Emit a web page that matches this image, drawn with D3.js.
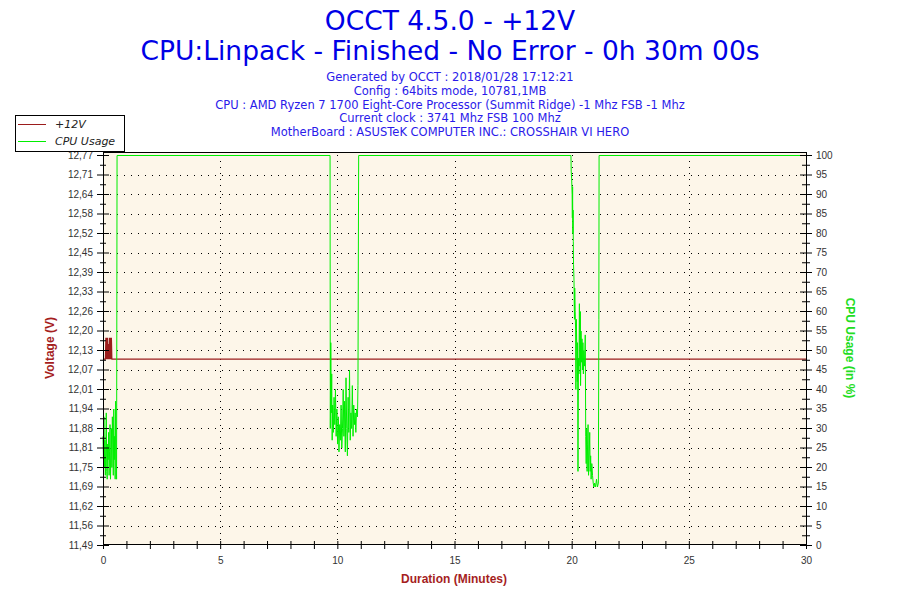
<!DOCTYPE html>
<html><head><meta charset="utf-8">
<script src="https://cdn.jsdelivr.net/npm/d3@7/dist/d3.min.js"></script>
<style>body{margin:0;background:#fff}svg{display:block}</style>
</head><body>
<svg id="chart" width="900" height="600"></svg>
<script>
// ---------- data ----------
const titleLines = ["OCCT 4.5.0 - +12V", "CPU:Linpack - Finished - No Error - 0h 30m 00s"];
const infoLines = [
  "Generated by OCCT : 2018/01/28 17:12:21",
  "Config : 64bits mode, 10781,1MB",
  "CPU : AMD Ryzen 7 1700 Eight-Core Processor (Summit Ridge) -1 Mhz FSB -1 Mhz",
  "Current clock : 3741 Mhz FSB 100 Mhz",
  "MotherBoard : ASUSTeK COMPUTER INC.: CROSSHAIR VI HERO"
];
const seriesNames = ["+12V", "CPU Usage"];
const voltDomain = [11.49, 12.77];
const voltTickLabels = ["11,49","11,56","11,62","11,69","11,75","11,81","11,88","11,94","12,01","12,07",
  "12,13","12,20","12,26","12,33","12,39","12,45","12,52","12,58","12,64","12,71","12,77"];
const cpuTickValues = [0,5,10,15,20,25,30,35,40,45,50,55,60,65,70,75,80,85,90,95,100];
const timeTickLabels = [0,5,10,15,20,25,30];

// +12V readings (minutes, volts)
const voltTime  = [0, 0.10, 0.12, 0.14, 0.16, 0.18, 0.20, 0.22, 0.24, 0.26, 0.28, 0.30, 0.32, 0.34, 0.36, 0.38, 30];
const voltValue = [12.10, 12.10, 12.17, 12.10, 12.17, 12.10, 12.17, 12.10, 12.15, 12.10, 12.17, 12.10, 12.17, 12.10, 12.17, 12.10, 12.10];

// CPU usage readings (minutes, %)
const cpuTime = [
  0.00,0.02,0.04,0.06,0.08,0.10,0.12,0.14,0.16,0.18,0.20,0.22,0.24,0.26,0.28,0.30,0.32,0.34,0.36,0.38,
  0.40,0.42,0.44,0.46,0.48,0.50,0.52,0.54,0.56,0.58,0.60,
  9.69,9.70,9.72,9.74,9.76,9.78,9.80,9.83,9.86,9.89,9.92,9.95,9.98,10.01,10.04,10.07,10.10,10.13,10.16,10.19,
  10.22,10.25,10.28,10.31,10.34,10.37,10.40,10.43,10.46,10.49,10.52,10.55,10.58,10.61,10.64,10.67,10.70,10.73,
  10.76,10.79,10.82,10.86,10.88,10.91,
  19.97,19.98,20.00,20.02,20.03,20.04,20.05,20.06,20.07,20.08,20.10,20.11,20.12,20.13,20.15,20.17,20.18,20.20,
  20.22,20.24,20.25,20.27,20.29,20.31,20.33,20.35,20.37,20.38,20.40,20.42,20.44,20.46,20.48,20.50,20.52,20.55,
  20.58,20.60,20.62,20.64,20.66,20.68,20.70,20.72,20.75,20.77,20.79,20.81,20.83,20.86,20.89,20.92,20.95,20.98,
  21.02,21.06,21.10,21.14,21.16,21.17,
  30
];
const cpuValue = [
  28,22,33,20,27,18,25,34,19,17,26,22,29,18,24,31,17,23,30,20,
  33,26,18,35,22,28,17,37,24,17,100,
  100,30,52,34,44,27,36,29,38,31,40,28,35,26,33,24,31,27,36,25,
  30,40,28,37,24,43,30,23,38,29,45,27,34,30,41,28,36,31,
  34,29,35,33,41,100,
  100,96,94,90,84,92,80,86,78,72,68,62,58,66,60,55,40,58,
  50,42,52,19,48,44,62,46,60,41,55,47,53,45,52,44,50,46,
  54,28,21,30,19,26,31,18,24,29,19,23,17,21,18,16,15,16,
  15,17,15,16,58,100,
  100
];

// ---------- chart ----------
const svg = d3.select("#chart");
const P = {left:103, right:806, top:155, bottom:545};
const x = d3.scaleLinear().domain([0,30]).range([P.left, P.right]);
const yCpu = d3.scaleLinear().domain([0,100]).range([P.bottom, P.top]);
const yVolt = d3.scaleLinear().domain(voltDomain).range([P.bottom, P.top]);

const titleFont = "'DejaVu Sans', Verdana, sans-serif";
const axFont = "'Liberation Sans', Arial, sans-serif";

svg.append("rect").attr("width",900).attr("height",600).attr("fill","#fff");

// titles
svg.selectAll("text.title").data(titleLines).enter().append("text")
  .attr("class","title").attr("x",450).attr("y",(d,i)=>30+i*30)
  .attr("text-anchor","middle").attr("font-family",titleFont).attr("font-size",26.5)
  .attr("fill","#0000e6").text(d=>d);
svg.selectAll("text.info").data(infoLines).enter().append("text")
  .attr("class","info").attr("x",450).attr("y",(d,i)=>81+i*13.8)
  .attr("text-anchor","middle").attr("font-family",titleFont).attr("font-size",11.5)
  .attr("fill","#2a1aea").text(d=>d);

// plot background
svg.append("rect").attr("x",P.left).attr("y",P.top-2).attr("width",P.right-P.left).attr("height",P.bottom-P.top+2)
  .attr("fill","#fdf6e9");

// grid
const grid = svg.append("g");
grid.selectAll("line.h").data(cpuTickValues.filter(v=>v>0&&v<100)).enter().append("line")
  .attr("x1",P.left).attr("x2",P.right).attr("y1",d=>Math.round(yCpu(d))+0.5).attr("y2",d=>Math.round(yCpu(d))+0.5)
  .attr("stroke","#000").attr("stroke-width",1).attr("stroke-dasharray","1,6");
grid.selectAll("line.v").data(timeTickLabels.filter(v=>v>0&&v<30)).enter().append("line")
  .attr("y1",P.top).attr("y2",P.bottom).attr("x1",d=>Math.round(x(d))+0.5).attr("x2",d=>Math.round(x(d))+0.5)
  .attr("stroke","#000").attr("stroke-width",1).attr("stroke-dasharray","1,5");

// lines
const voltData = voltTime.map((t,i)=>({t, v:voltValue[i]}));
const cpuData = cpuTime.map((t,i)=>({t, v:cpuValue[i]}));
svg.append("path").datum(voltData)
  .attr("d", d3.line().x(d=>x(d.t)).y(d=>yVolt(d.v)))
  .attr("fill","none").attr("stroke","#9b1c1c").attr("stroke-width",1.1);
svg.append("path").datum(cpuData)
  .attr("d", d3.line().x(d=>x(d.t)).y(d=>yCpu(d.v)+0.5))
  .attr("fill","none").attr("stroke","#00ee00").attr("stroke-width",1);

// axes
function styleAxis(g){
  g.select(".domain").remove();
  g.selectAll("text").attr("font-family",axFont).attr("font-size",10).attr("fill","#333");
  g.selectAll("line").attr("stroke","#000");
}
const voltTickVals = voltTickLabels.map((_,i)=>voltDomain[0]+i*(voltDomain[1]-voltDomain[0])/(voltTickLabels.length-1));
const leftG = svg.append("g").attr("transform",`translate(${P.left},0)`)
  .call(d3.axisLeft(yVolt).tickValues(voltTickVals).tickFormat((d,i)=>voltTickLabels[i]).tickSize(6).tickPadding(4))
  .call(styleAxis);
leftG.selectAll(".tick line").attr("x1",6);
const leftMinor = svg.append("g").attr("transform",`translate(${P.left},0)`)
  .call(d3.axisLeft(yVolt).tickValues(voltTickVals.slice(1).map((v,i)=>(v+voltTickVals[i])/2)).tickFormat("").tickSize(3))
  .call(styleAxis);
leftMinor.selectAll(".tick line").attr("x1",3);

const rightG = svg.append("g").attr("transform",`translate(${P.right},0)`)
  .call(d3.axisRight(yCpu).tickValues(cpuTickValues).tickSize(6).tickPadding(4))
  .call(styleAxis);
rightG.selectAll(".tick line").attr("x1",-6);
const rightMinor = svg.append("g").attr("transform",`translate(${P.right},0)`)
  .call(d3.axisRight(yCpu).tickValues(cpuTickValues.slice(1).map(v=>v-2.5)).tickFormat("").tickSize(4))
  .call(styleAxis);
rightMinor.selectAll(".tick line").attr("x1",-4);

const bottomG = svg.append("g").attr("transform",`translate(0,${P.bottom})`)
  .call(d3.axisBottom(x).tickValues(d3.range(0,31,1)).tickFormat(d=>timeTickLabels.includes(d)?d:"").tickSize(4).tickPadding(8))
  .call(styleAxis);
bottomG.selectAll(".tick line").attr("y1",-4);

// frame
svg.append("rect").attr("x",P.left+0.5).attr("y",P.top-2.5).attr("width",P.right-P.left).attr("height",P.bottom-P.top+2)
  .attr("fill","none").attr("stroke","#000").attr("stroke-width",1);

// axis titles
svg.append("text").attr("transform","translate(54,348) rotate(-90)").attr("text-anchor","middle")
  .attr("font-family",axFont).attr("font-weight","bold").attr("font-size",12).attr("fill","#a51e1e").text("Voltage (V)");
svg.append("text").attr("transform","translate(846,348) rotate(90)").attr("text-anchor","middle")
  .attr("font-family",axFont).attr("font-weight","bold").attr("font-size",12).attr("fill","#22dd22").text("CPU Usage (in %)");
svg.append("text").attr("x",454).attr("y",583).attr("text-anchor","middle")
  .attr("font-family",axFont).attr("font-weight","bold").attr("font-size",12).attr("fill","#a51e1e").text("Duration (Minutes)");

// legend
const lg = svg.append("g");
lg.append("rect").attr("x",15.5).attr("y",115.5).attr("width",109).attr("height",36)
  .attr("fill","#fff").attr("stroke","#000").attr("stroke-width",1);
const legendColors = ["#9b1c1c","#00ee00"];
seriesNames.forEach((n,i)=>{
  const yy = 124 + i*17;
  lg.append("line").attr("x1",18).attr("x2",46).attr("y1",yy+0.5).attr("y2",yy+0.5).attr("stroke",legendColors[i]).attr("stroke-width",1);
  lg.append("text").attr("x",55).attr("y",yy+4).attr("font-family",titleFont).attr("font-style","italic")
    .attr("font-size",11).attr("fill","#222").text(n);
});
</script>
</body></html>
